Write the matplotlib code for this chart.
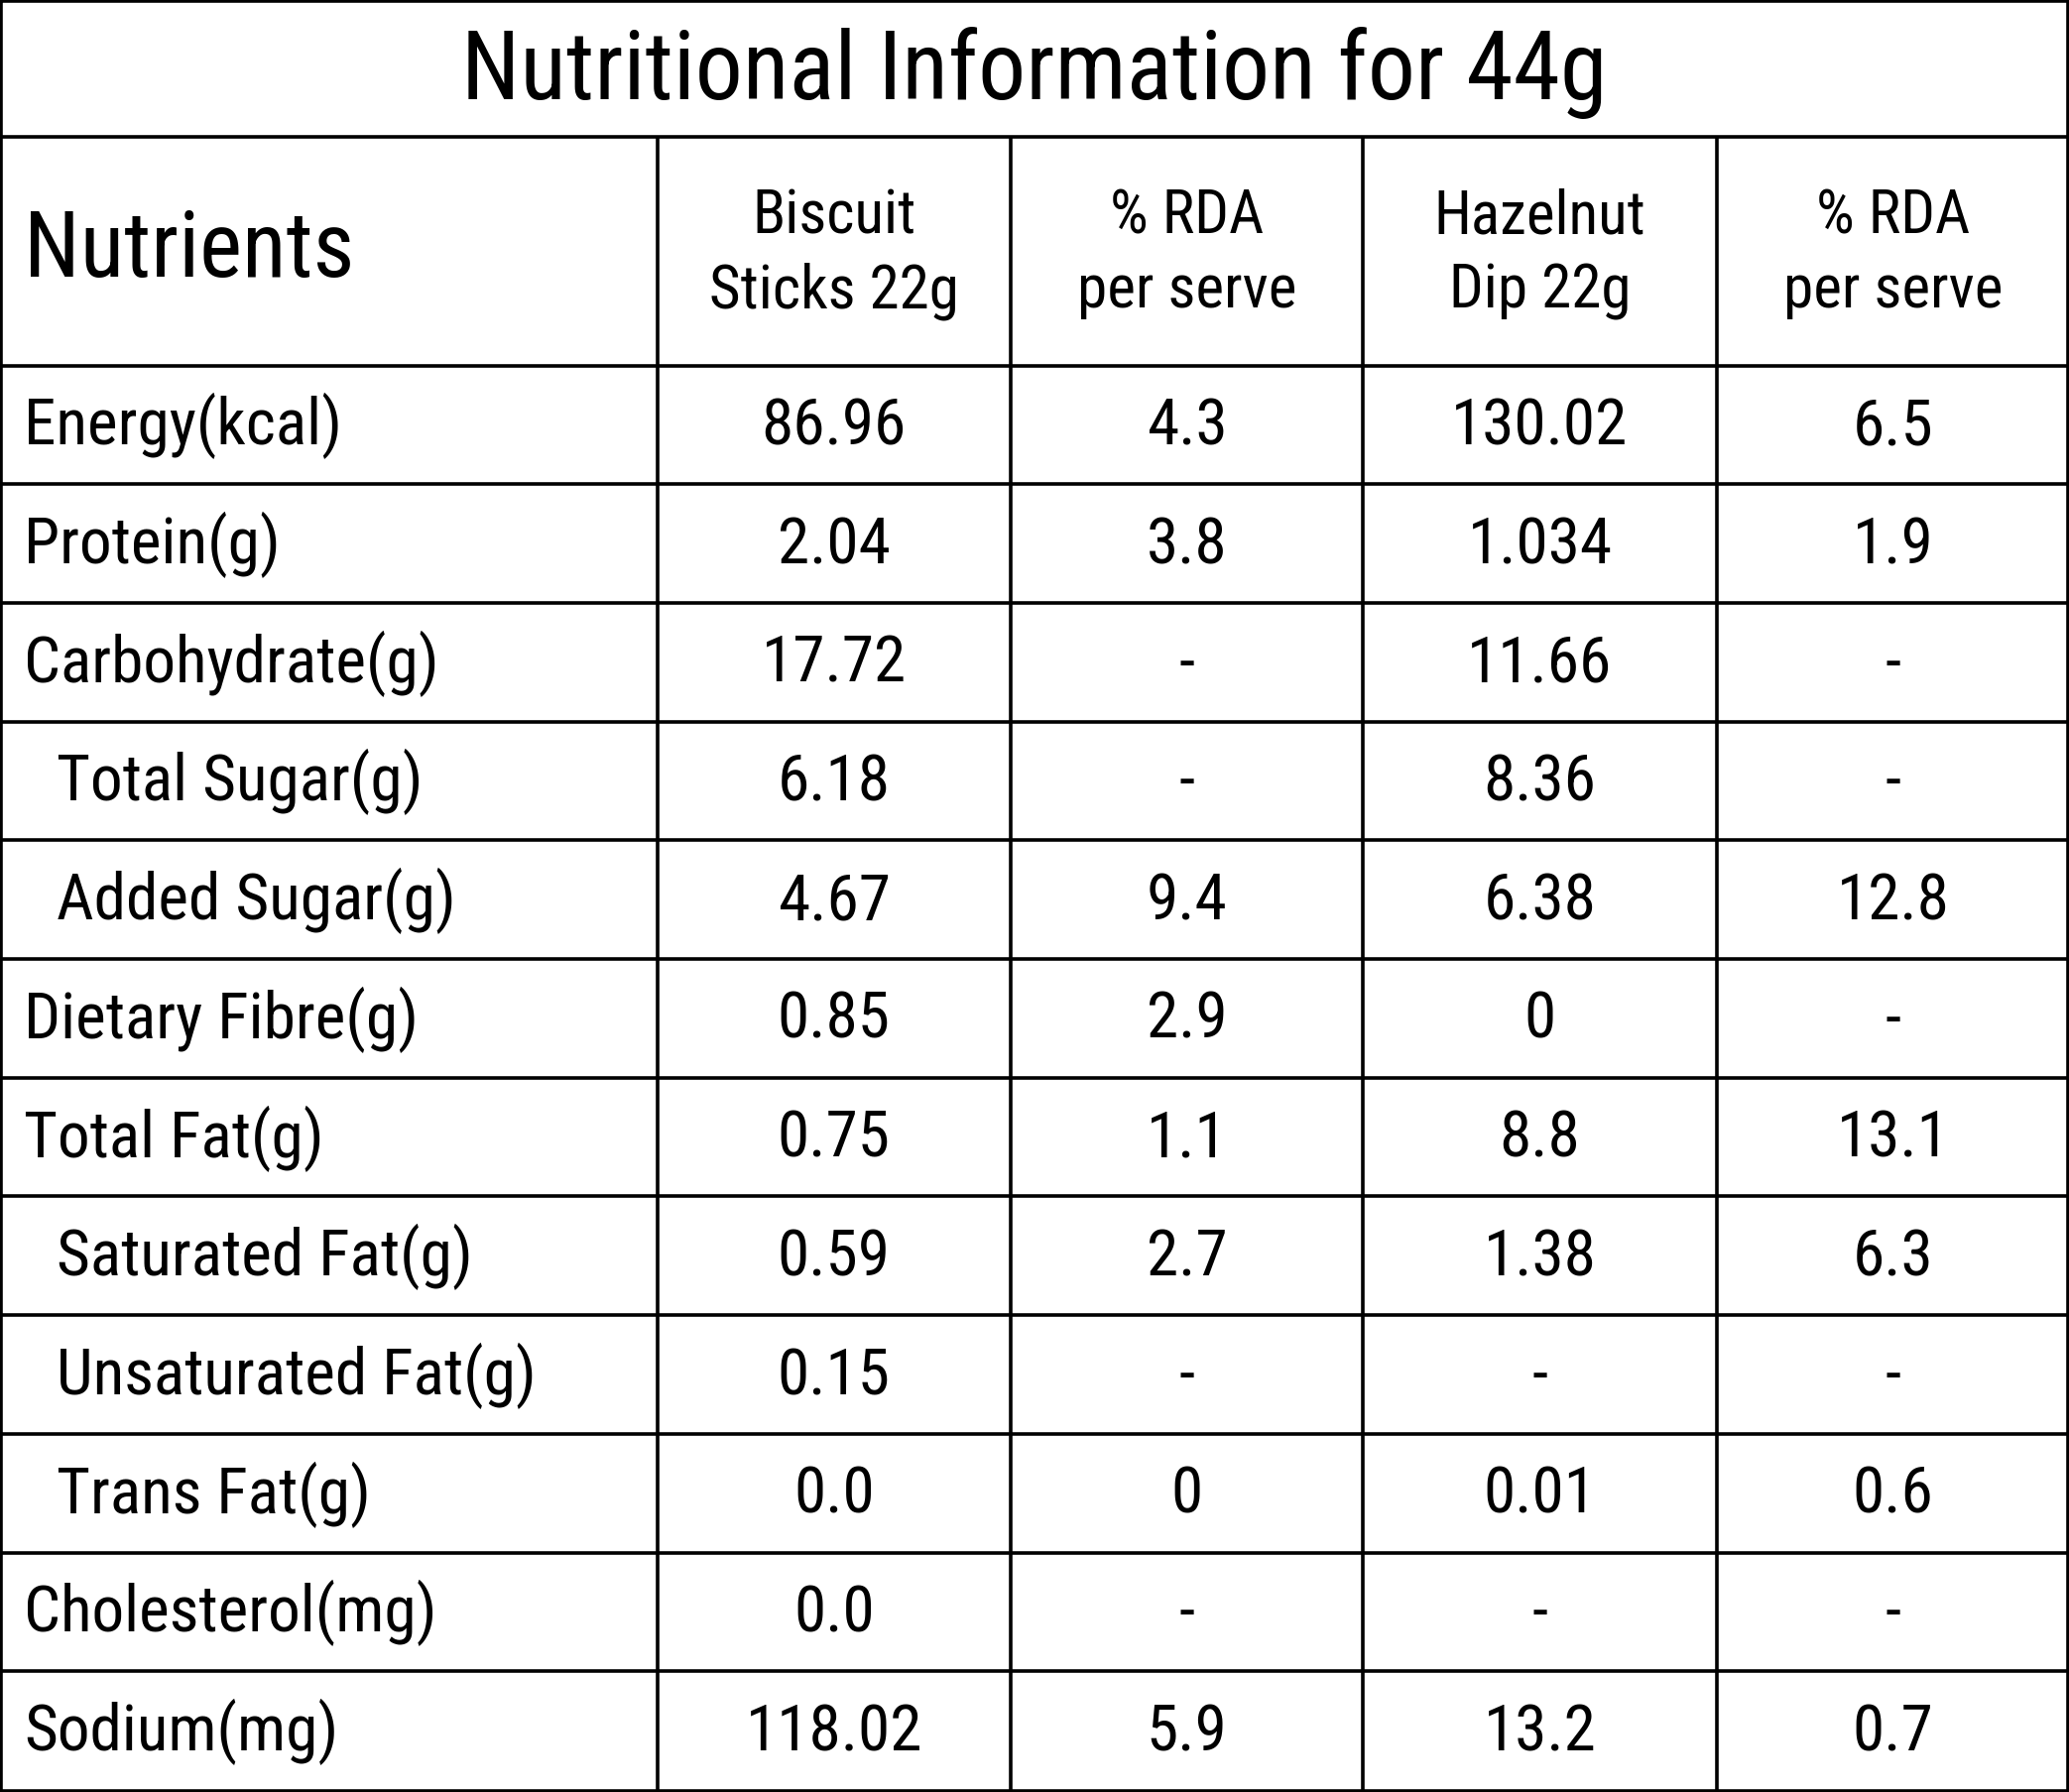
import matplotlib
matplotlib.use("Agg")
import matplotlib.pyplot as plt
from matplotlib import font_manager

# table content
title = "Nutritional Information for 44g"
first_header = "Nutrients"
col_headers = ["Biscuit\nSticks 22g", "% RDA\nper serve", "Hazelnut\nDip 22g", "% RDA\nper serve"]
nutrients = ["Energy(kcal)", "Protein(g)", "Carbohydrate(g)", "Total Sugar(g)", "Added Sugar(g)",
             "Dietary Fibre(g)", "Total Fat(g)", "Saturated Fat(g)", "Unsaturated Fat(g)",
             "Trans Fat(g)", "Cholesterol(mg)", "Sodium(mg)"]
sub_item = [False, False, False, True, True, False, False, True, True, True, False, False]
biscuit = ["86.96", "2.04", "17.72", "6.18", "4.67", "0.85", "0.75", "0.59", "0.15", "0.0", "0.0", "118.02"]
biscuit_rda = ["4.3", "3.8", "-", "-", "9.4", "2.9", "1.1", "2.7", "-", "0", "-", "5.9"]
hazelnut = ["130.02", "1.034", "11.66", "8.36", "6.38", "0", "8.8", "1.38", "-", "0.01", "-", "13.2"]
hazelnut_rda = ["6.5", "1.9", "-", "-", "12.8", "-", "13.1", "6.3", "-", "0.6", "-", "0.7"]

# pick a narrow font if one is around
names = {f.name for f in font_manager.fontManager.ttflist}
fam = "DejaVu Sans"
for cand in ["Roboto Condensed", "Liberation Sans Narrow", "Open Sans Condensed", "DejaVu Sans Condensed"]:
    if cand in names:
        fam = cand
        break
plt.rcParams["font.family"] = [fam, "DejaVu Sans"]
stretch = "condensed" if fam == "DejaVu Sans" else "normal"

W, H = 2086, 1807
fig = plt.figure(figsize=(W / 100, H / 100), dpi=100)
ax = fig.add_axes([0, 0, 1, 1])
ax.set_xlim(0, W)
ax.set_ylim(H, 0)
ax.axis("off")

col_x = [0, 662.5, 1019, 1374, 1731, W]
title_bottom = 138
head_bottom = 368.5
row_h = (H - 2 - head_bottom) / len(nutrients)
row_y = [head_bottom + i * row_h for i in range(len(nutrients) + 1)]

lw = 2.6
# grid
ax.hlines([title_bottom] + row_y[:-1], 0, W, color="black", lw=lw)
ax.vlines(col_x[1:-1], title_bottom, H, color="black", lw=lw)
ax.plot([1, W - 1, W - 1, 1, 1], [1, 1, H - 1, H - 1, 1], color="black", lw=lw)

ax.text(W / 2, 100, title, ha="center", va="baseline", fontsize=69, stretch=stretch)
ax.text(24, 279, first_header, ha="left", va="baseline", fontsize=66, stretch=stretch)
for i, h in enumerate(col_headers):
    cx = (col_x[i + 1] + col_x[i + 2]) / 2
    l1, l2 = h.split("\n")
    ax.text(cx, 235, l1, ha="center", va="baseline", fontsize=44, stretch=stretch)
    ax.text(cx, 310, l2, ha="center", va="baseline", fontsize=44, stretch=stretch)

cols = [biscuit, biscuit_rda, hazelnut, hazelnut_rda]
for r, name in enumerate(nutrients):
    base = row_y[r] + 0.667 * row_h
    x0 = 57 if sub_item[r] else 24
    ax.text(x0, base, name, ha="left", va="baseline", fontsize=47, stretch=stretch)
    for c, vals in enumerate(cols):
        cx = (col_x[c + 1] + col_x[c + 2]) / 2
        ax.text(cx, base, vals[r], ha="center", va="baseline", fontsize=47, stretch=stretch)

fig.savefig("out.png", dpi=100, facecolor="white")
